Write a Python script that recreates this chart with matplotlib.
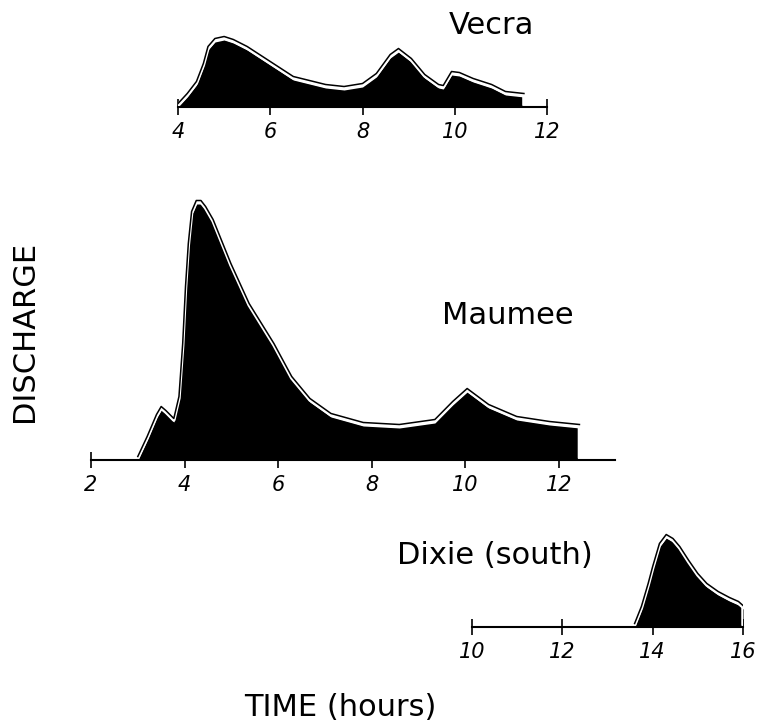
import matplotlib
matplotlib.use("Agg")
import matplotlib.pyplot as plt
import numpy as np

plt.rcParams['font.family'] = ['DejaVu Sans']

W, H = 761, 725

# hydrographs (time in hours, discharge in relative units)
vecra_t = [4.0, 4.2, 4.4, 4.55, 4.65, 4.8, 5.0, 5.2, 5.5, 6.0, 6.5, 7.2, 7.6, 8.0,
           8.3, 8.6, 8.78, 9.06, 9.35, 9.65, 9.75, 9.93, 10.1, 10.4, 10.8, 11.1, 11.5, 11.5]
vecra_q = [0, 10, 22, 40, 57, 65, 67, 64, 57, 42, 27, 19, 17, 20,
           30, 49, 55, 45, 29, 19, 18, 32, 31, 25, 19, 12, 10, 0]

maumee_t = [3.0, 3.2, 3.4, 3.5, 3.6, 3.77, 3.88, 3.96, 4.02, 4.08, 4.15, 4.25, 4.35,
            4.45, 4.61, 4.8, 4.99, 5.38, 5.91, 6.29, 6.68, 7.13, 7.82, 8.59, 9.35,
            9.73, 10.04, 10.5, 11.1, 11.8, 12.44, 12.44]
maumee_q = [0, 20, 42, 50, 46, 38, 60, 113, 170, 213, 245, 256, 256,
            250, 237, 215, 193, 153, 113, 80, 58, 43, 34, 32, 37,
            55, 68, 52, 40, 35, 32, 0]

dixie_t = [13.6, 13.75, 13.9, 14.0, 14.15, 14.3, 14.45, 14.6, 14.8, 15.0, 15.2,
           15.45, 15.7, 15.9, 16.0, 16.0]
dixie_q = [0, 17, 40, 57, 80, 89, 85, 77, 63, 50, 40, 32, 26, 22, 18, 0]

vecra_ticks = [4, 6, 8, 10, 12]
maumee_ticks = [2, 4, 6, 8, 10, 12]
dixie_ticks = [10, 12, 14, 16]

fig = plt.figure(figsize=(W / 100, H / 100), dpi=100)


def panel(x0, x1, base, xlim, t, q, ticks, top=270):
    # axes placed in pixel units so all three panels share one scale
    ax = fig.add_axes([x0 / W, (H - base) / H, (x1 - x0) / W, top / H])
    ax.set_xlim(*xlim)
    ax.set_ylim(0, top)
    t = np.array(t)
    q = np.array(q)
    ax.fill_between(t, 0, q, color='black', lw=0)
    ax.plot(t, q + 2, color='white', lw=2.5, solid_capstyle='round')
    ax.plot(t[:-1], q[:-1] + 3.5, color='black', lw=1.1)
    for s in ['top', 'left', 'right']:
        ax.spines[s].set_visible(False)
    ax.spines['bottom'].set_linewidth(1.5)
    ax.set_yticks([])
    ax.set_xticks(ticks)
    ax.set_xticklabels([str(v) for v in ticks], fontsize=15, style='italic')
    ax.tick_params(axis='x', direction='inout', length=12, width=1.2, pad=5)
    ax.patch.set_alpha(0)
    return ax


panel(178, 547, 107, (4, 12), vecra_t, vecra_q, vecra_ticks, top=80)
panel(91, 615, 460, (2, 13.2), maumee_t, maumee_q, maumee_ticks, top=270)
panel(472, 743, 627, (10, 16), dixie_t, dixie_q, dixie_ticks, top=100)


def label(x, y, s, **kw):
    fig.text(x / W, 1 - y / H, s, va='center', ha='center', fontsize=22, **kw)


label(491, 25, 'Vecra')
label(508, 315, 'Maumee')
label(495, 556, 'Dixie (south)')
label(340, 707, 'TIME (hours)')
label(25, 331, 'DISCHARGE', rotation=90)

fig.savefig('out.png', dpi=100)
